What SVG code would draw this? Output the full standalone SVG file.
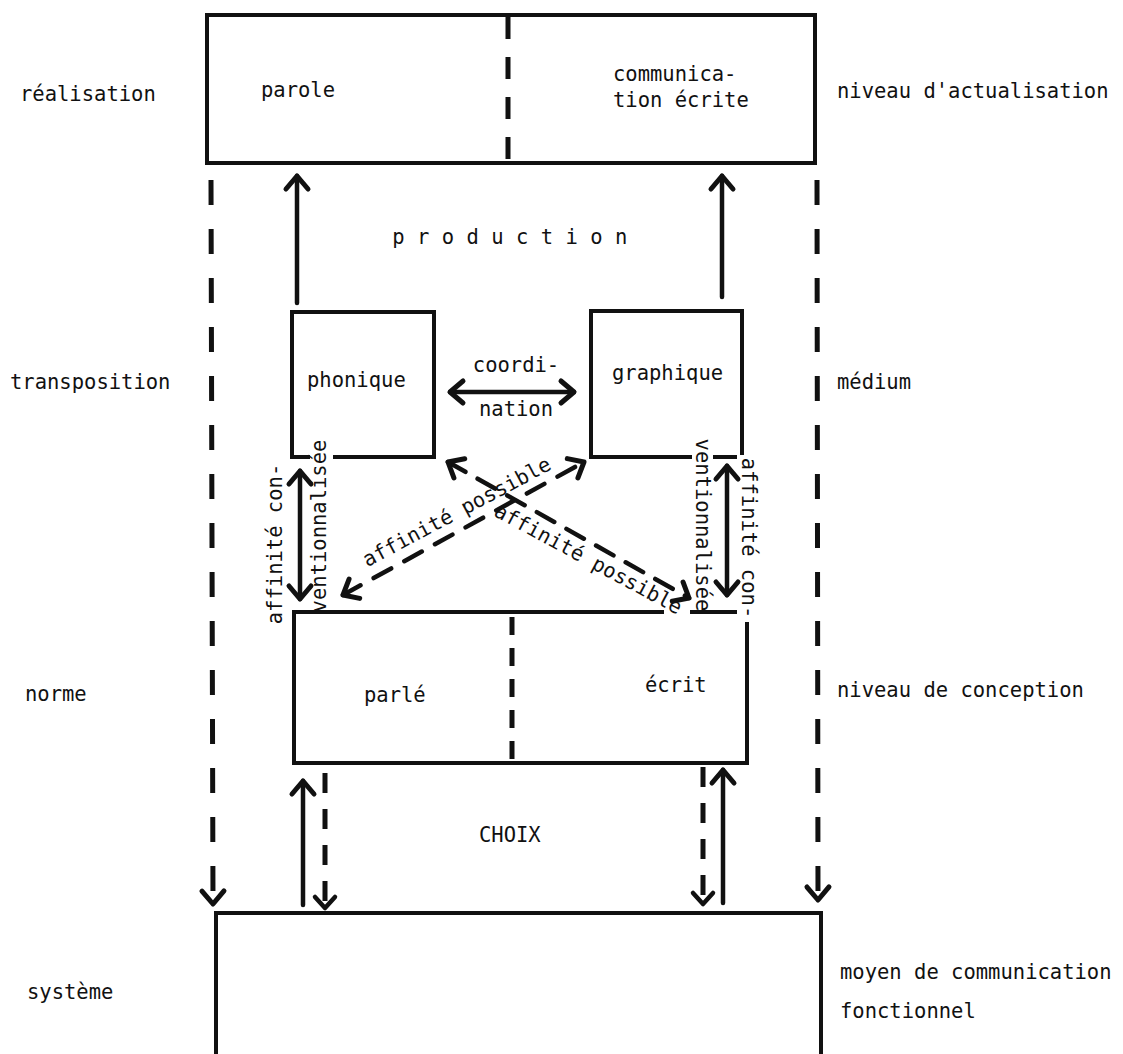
<svg xmlns="http://www.w3.org/2000/svg" width="1123" height="1054" viewBox="0 0 1123 1054">
<defs>
<style>
text { font-family: "DejaVu Sans Mono", "Liberation Mono", monospace; font-size: 20.5px; fill: #111; }
.box { fill: none; stroke: #111; stroke-width: 4; stroke-linejoin: miter; }
.ln { fill: none; stroke: #111; stroke-width: 4.5; stroke-linecap: round; }
.dl { fill: none; stroke: #111; stroke-width: 5; }
</style>
<marker id="ah" markerUnits="userSpaceOnUse" viewBox="-20 -16 26 32" markerWidth="26" markerHeight="32" refX="0" refY="0" orient="auto-start-reverse">
<path d="M-13,-11 L0,0 L-13,11" fill="none" stroke="#111" stroke-width="5" stroke-linecap="round" stroke-linejoin="round"/>
</marker>
<marker id="ahs" markerUnits="userSpaceOnUse" viewBox="-18 -14 24 28" markerWidth="24" markerHeight="28" refX="0" refY="0" orient="auto-start-reverse">
<path d="M-11,-10 L0,0 L-11,10" fill="none" stroke="#111" stroke-width="4.5" stroke-linecap="round" stroke-linejoin="round"/>
</marker>
</defs>
<rect x="0" y="0" width="1123" height="1054" fill="#fff"/>

<g id="labels">
<text x="20" y="101">réalisation</text>
<text x="837" y="98">niveau d'actualisation</text>
<text x="10" y="389">transposition</text>
<text x="837" y="389">médium</text>
<text x="25" y="701">norme</text>
<text x="837" y="697">niveau de conception</text>
<text x="27" y="999">système</text>
<text x="840" y="979">moyen de communication</text>
<text x="840" y="1018">fonctionnel</text>
<text x="516" y="244" text-anchor="middle" letter-spacing="12.4">production</text>
<text x="479" y="842">CHOIX</text>
</g>

<g id="node-realisation">
<rect class="box" x="207" y="15" width="608" height="148"/>
<line class="dl" x1="508" y1="17" x2="508" y2="161" stroke-dasharray="22 18"/>
<text x="261" y="97">parole</text>
<text x="613" y="81">communica-</text>
<text x="613" y="107">tion écrite</text>
</g>

<g id="node-phonique">
<path class="box" d="M310,457 H292 V312 H434 V457 H333"/>
<text x="307" y="387">phonique</text>
</g>

<g id="node-graphique">
<path class="box" d="M692,457 H591 V311 H742 V455"/>
<path class="box" d="M713,457 H737"/>
<text x="612" y="380">graphique</text>
</g>

<g id="node-norme">
<path class="box" d="M664,612 H294 V763 H747 V622"/>
<path class="box" d="M690,612 H737"/>
<line class="dl" x1="512" y1="617" x2="512" y2="763" stroke-dasharray="18 13"/>
<text x="364" y="702">parlé</text>
<text x="645" y="692">écrit</text>
</g>

<g id="node-systeme">
<path class="box" d="M216,1060 V913 H821 V1060"/>
</g>

<g id="connectors">
<line class="ln" x1="297" y1="303" x2="297" y2="176" marker-end="url(#ah)"/>
<line class="ln" x1="722" y1="297" x2="722" y2="176" marker-end="url(#ah)"/>
<line class="dl" x1="211" y1="180" x2="213" y2="904" stroke-dasharray="25 24" marker-end="url(#ah)"/>
<line class="dl" x1="817" y1="180" x2="818" y2="900" stroke-dasharray="25 24" marker-end="url(#ah)"/>
<line class="ln" x1="450" y1="392" x2="574" y2="392" marker-start="url(#ah)" marker-end="url(#ah)"/>
<line class="ln" x1="300" y1="471" x2="300" y2="599" marker-start="url(#ah)" marker-end="url(#ah)"/>
<line class="ln" x1="727" y1="466" x2="727" y2="595" marker-start="url(#ah)" marker-end="url(#ah)"/>
<line class="ln" x1="343" y1="595" x2="584" y2="462" stroke-dasharray="20 15" marker-start="url(#ah)" marker-end="url(#ah)"/>
<line class="ln" x1="448" y1="462" x2="689" y2="598" stroke-dasharray="20 14" marker-start="url(#ah)" marker-end="url(#ah)"/>
<line class="ln" x1="303" y1="905" x2="303" y2="781" marker-end="url(#ah)"/>
<line class="dl" x1="325" y1="773" x2="325" y2="908" stroke-dasharray="20 16" marker-end="url(#ahs)"/>
<line class="dl" x1="703" y1="767" x2="703" y2="904" stroke-dasharray="20 16" marker-end="url(#ahs)"/>
<line class="ln" x1="723" y1="903" x2="723" y2="770" marker-end="url(#ah)"/>
</g>

<g id="connector-labels">
<text x="516" y="372" text-anchor="middle">coordi-</text>
<text x="516" y="416" text-anchor="middle">nation</text>
<text transform="translate(282,544) rotate(-90)" text-anchor="middle">affinité con-</text>
<text transform="translate(326,526) rotate(-90)" text-anchor="middle">ventionnalisée</text>
<text transform="translate(696,525) rotate(90)" text-anchor="middle">ventionnalisée</text>
<text transform="translate(742,538) rotate(90)" text-anchor="middle">affinité con-</text>
<text transform="translate(460,518) rotate(-28)" text-anchor="middle">affinité possible</text>
<text transform="translate(585,565) rotate(28.3)" text-anchor="middle">affinité possible</text>
</g>
</svg>
